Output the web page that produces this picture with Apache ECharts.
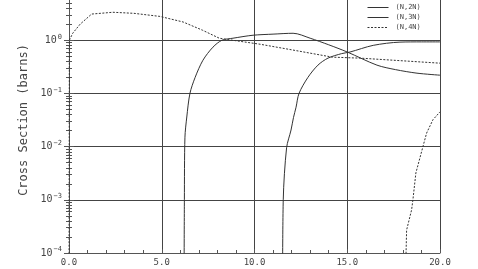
<!DOCTYPE html>
<html><head><meta charset="utf-8">
<script src="https://cdn.jsdelivr.net/npm/echarts@6/dist/echarts.min.js"></script>
<style>html,body{margin:0;padding:0;background:#fff}#c{width:478px;height:269px}</style>
</head><body><div id="c"></div>
<script>
// Data (energy MeV, cross section barns)
const xTickLabels = ['0.0','5.0','10.0','15.0','20.0'];
const otherName = "(N,N')";
const otherE   = [0, 0.02, 0.2, 0.6, 1.22, 2.37, 3.5, 4.9, 6.15, 7.2, 8.1, 8.8, 10.3, 12.0, 14.2, 15.7, 17.5, 20];
const otherXS  = [1e-5, 1.0, 1.35, 2.0, 3.1, 3.35, 3.2, 2.8, 2.2, 1.54, 1.09, 1.0, 0.84, 0.66, 0.48, 0.46, 0.42, 0.37];
const n2nE  = [6.2, 6.22, 6.25, 6.35, 6.52, 6.8, 7.22, 7.76, 8.25, 8.84, 9.92, 11.0, 12.08, 13.0, 14.0, 15.0, 16.6, 17.6, 18.76, 20];
const n2nXS = [1e-5, 1e-3, 0.015, 0.036, 0.10, 0.20, 0.42, 0.74, 1.0, 1.09, 1.24, 1.3, 1.35, 1.09, 0.82, 0.6, 0.34, 0.28, 0.24, 0.22];
const n3nE  = [11.51, 11.55, 11.73, 11.97, 12.1, 12.24, 12.4, 12.88, 13.42, 13.96, 14.7, 15.15, 16.4, 17.84, 19.0, 20];
const n3nXS = [1e-5, 1e-3, 0.0095, 0.0205, 0.035, 0.055, 0.10, 0.20, 0.34, 0.46, 0.56, 0.60, 0.8, 0.92, 0.93, 0.93];
const n4nE  = [18.1, 18.2, 18.47, 18.54, 18.7, 19.08, 19.28, 19.62, 19.95, 20];
const n4nXS = [1e-5, 2.7e-4, 6.5e-4, 1e-3, 3.2e-3, 0.01, 0.018, 0.032, 0.043, 0.045];
const legendNames = ['(N,2N)', '(N,3N)', '(N,4N)'];

const zip = (a, b) => a.map((v, i) => [v, b[i]]);
const sup = {'-':'\u2212','0':'0','1':'1','2':'2','3':'3','4':'4'};
const font = 'DejaVu Sans Mono';
const axisCol = '#555';

const chart = echarts.init(document.getElementById('c'), null, {renderer: 'canvas'});
chart.setOption({
  animation: false,
  backgroundColor: '#fff',
  grid: {left: 69, right: 38, top: -13, bottom: 16, containLabel: false, outerBoundsMode: 'none'},
  legend: {
    data: legendNames, orient: 'vertical', left: 362, top: -1,
    itemWidth: 21, itemHeight: 7, itemGap: 3,
    itemStyle: {opacity: 0},
    lineStyle: {width: 1},
    textStyle: {fontFamily: font, fontSize: 7, color: '#444', padding: [0,0,0,2]}
  },
  xAxis: [{
    type: 'value', min: 0, max: 20, interval: 5,
    axisLine: {lineStyle: {color: axisCol, width: 1}},
    axisTick: {inside: true, length: 4, lineStyle: {color: axisCol}},
    minorTick: {show: true, splitNumber: 5, length: 3, lineStyle: {color: axisCol}},
    splitLine: {show: true, lineStyle: {color: '#444', width: 1}},
    axisLabel: {fontFamily: font, fontSize: 9, color: '#444', margin: 5,
      formatter: v => xTickLabels[Math.round(v / 5)]}
  }, {
    type: 'value', min: 0, max: 20, interval: 5, position: 'top',
    axisLine: {show: true, lineStyle: {color: axisCol}},
    axisTick: {inside: true, length: 4}, axisLabel: {show: false}, splitLine: {show: false}
  }],
  yAxis: [{
    type: 'log', logBase: 10, min: 1e-4, max: 10,
    name: 'Cross Section (barns)', nameLocation: 'middle', nameGap: 37,
    nameTextStyle: {fontFamily: font, fontSize: 12, color: '#444'},
    axisLine: {show: true, lineStyle: {color: axisCol}},
    axisTick: {show: true, inside: true, length: 5, lineStyle: {color: axisCol}},
    minorTick: {show: true, splitNumber: 9, length: 3, lineStyle: {color: axisCol}},
    splitLine: {show: true, lineStyle: {color: '#444', width: 1}},
    axisLabel: {
      margin: 7,
      formatter: v => {
        const e = Math.round(Math.log10(v));
        const s = String(e).split('').map(c => sup[c]).join('');
        return '{a|10}{b|' + s + '}';
      },
      rich: {
        a: {fontFamily: font, fontSize: 10, color: '#444'},
        b: {fontFamily: font, fontSize: 7, color: '#444', padding: [0, 0, 7, 1]}
      }
    }
  }, {
    type: 'log', logBase: 10, min: 1e-4, max: 10, position: 'right',
    axisLine: {show: true, lineStyle: {color: axisCol}},
    axisTick: {show: true, inside: true, length: 5, lineStyle: {color: axisCol}},
    minorTick: {show: true, splitNumber: 9, length: 3, lineStyle: {color: axisCol}},
    splitLine: {show: false}, axisLabel: {show: false}
  }],
  series: [
    {name: otherName, type: 'line', data: zip(otherE, otherXS), symbol: 'none', clip: true,
      lineStyle: {color: '#333', width: 1, type: [2, 1.5]}},
    {name: legendNames[0], type: 'line', data: zip(n2nE, n2nXS), symbol: 'none', clip: true, smooth: 0.3,
      itemStyle: {color: '#777'}, lineStyle: {color: '#333', width: 1}},
    {name: legendNames[1], type: 'line', data: zip(n3nE, n3nXS), symbol: 'none', clip: true, smooth: 0.3,
      itemStyle: {color: '#222'}, lineStyle: {color: '#333', width: 1}},
    {name: legendNames[2], type: 'line', data: zip(n4nE, n4nXS), symbol: 'none', clip: true,
      itemStyle: {color: '#333'}, lineStyle: {color: '#333', width: 1, type: [2, 1.5]}}
  ]
});
</script></body></html>
